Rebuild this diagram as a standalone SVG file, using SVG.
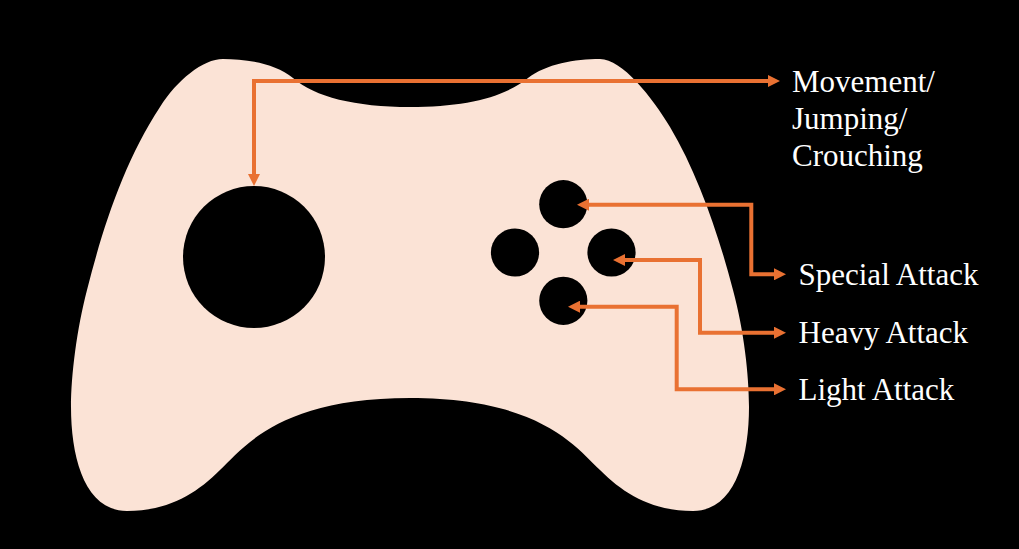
<svg xmlns="http://www.w3.org/2000/svg" width="1019" height="549" viewBox="0 0 1019 549">
<style>
.hole{fill:#000}
.conn{fill:none;stroke:#e97132;stroke-width:4;marker-start:url(#ah);marker-end:url(#ah)}
.lbl{font-family:"Liberation Serif","Times New Roman",serif;font-size:31px;fill:#fff}
</style>
<defs>
<marker id="ah" markerUnits="userSpaceOnUse" markerWidth="12" markerHeight="12" refX="2" refY="6" orient="auto-start-reverse"><path d="M0 0L12 6L0 12Z" fill="#e97132"/></marker>
</defs>
<rect width="1019" height="549" fill="#000"/>
<g id="controller">
<path fill="#fbe3d6" d="M223 59C245 59 275 63 293 78C315 97 355 107 410 107C465 107 505 97 528 78C546 64 575 59 600 59C622 59 652 97 670 127C698 174 719 236 733 290C744 331 749 375 749 407C749 458 735 511 693 511C652 511 624 494 600 470C576 447 540 398 410 398C280 398 244 447 220 470C196 494 168 511 127 511C85 511 71 458 71 407C71 375 77 328 87 290C103 227 124 162 160 107C177 80 203 59 223 59Z"/>
</g>
<g id="stick"><circle class="hole" cx="254" cy="257" r="71"/></g>
<g id="btn-top"><circle class="hole" cx="563.300" cy="204.200" r="24.100"/></g>
<g id="btn-left"><circle class="hole" cx="515" cy="252.500" r="24.100"/></g>
<g id="btn-right"><circle class="hole" cx="611.500" cy="252.500" r="24.100"/></g>
<g id="btn-bottom"><circle class="hole" cx="563.300" cy="300.800" r="24.100"/></g>
<g id="connectors">
<path class="conn" d="M770 81H254V176"/>
<path class="conn" d="M776 274.300H751.300V204.700H587"/>
<path class="conn" d="M776 332.700H700V260H623"/>
<path class="conn" d="M776 389.300H676.700V306.700H578"/>
</g>
<g id="label-movement"><text class="lbl" x="792" y="92">Movement/</text><text class="lbl" x="792" y="129">Jumping/</text><text class="lbl" x="792" y="166">Crouching</text></g>
<g id="label-special"><text class="lbl" x="798.500" y="285">Special Attack</text></g>
<g id="label-heavy"><text class="lbl" x="798.500" y="343">Heavy Attack</text></g>
<g id="label-light"><text class="lbl" x="798.500" y="400">Light Attack</text></g>
</svg>
